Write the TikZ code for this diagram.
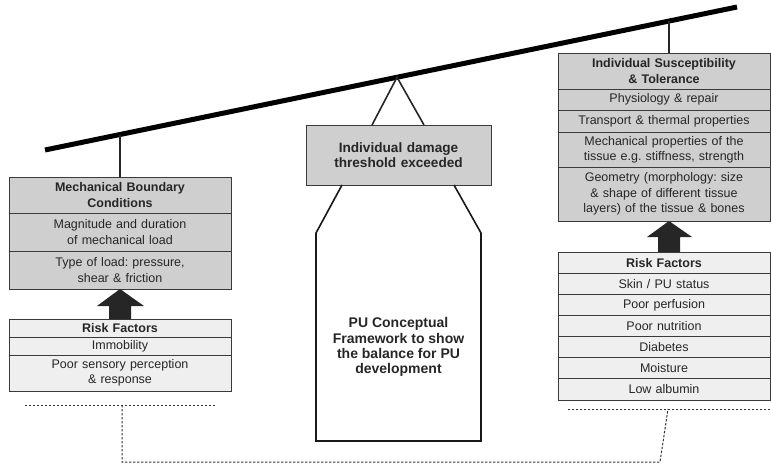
\documentclass[tikz,border=0pt]{standalone}
\usepackage{fontspec}
\setmainfont{Liberation Sans}
\usetikzlibrary{calc}
\frenchspacing
\definecolor{boxgray}{HTML}{CFCFCF}
\definecolor{riskgray}{HTML}{EFEFEF}
\definecolor{edge}{HTML}{3A3A3A}
\tikzset{
  cell/.style={draw=edge, line width=0.9pt, inner sep=0pt, align=center,
    font=\fontsize{12.5}{15.3}\selectfont, text=black!85, anchor=center},
  upper/.style={cell, fill=boxgray},
  risk/.style={cell, fill=riskgray},
  ttl/.style={font=\fontsize{12.5}{15.3}\selectfont\bfseries},
  beamline/.style={line width=5pt},
  hang/.style={line width=1.6pt, black!85},
  bigarrow/.style={fill=black!85, draw=none},
  dashln/.style={draw=black!80, line width=1pt, dash pattern=on 2.4pt off 1.6pt}
}
\begin{document}
\begin{tikzpicture}[x=1pt,y=-1pt]
\useasboundingbox (0,0) rectangle (771,464);
% beam
\coordinate (beamL) at (45,150);
\coordinate (beamR) at (737,7);
\draw[beamline] (beamL) -- (beamR);
\coordinate (apex) at ($(beamL)!0.5087!(beamR)$);
\coordinate (hookL) at ($(beamL)!0.1084!(beamR)$);
\coordinate (hookR) at ($(beamL)!0.9017!(beamR)$);

% left stack
\node[upper, minimum width=222, minimum height=36, text width=215, ttl] (mbc) at (120,195) {Mechanical Boundary\\Conditions};
\node[upper, minimum width=222, minimum height=38, text width=215] (mag) at (120,232) {Magnitude and duration\\of mechanical load};
\node[upper, minimum width=222, minimum height=38, text width=215] (typ) at (120,270) {Type of load: pressure,\\shear \& friction};
\node[risk, minimum width=222, minimum height=18, text width=215, ttl] (rfL) at (120,328) {Risk Factors};
\node[risk, minimum width=222, minimum height=18, text width=215] (imm) at (120,346) {Immobility};
\node[risk, minimum width=222, minimum height=36, text width=215] (poor) at (120,373) {Poor sensory perception\\\& response};
\draw[hang] (hookL) -- (hookL |- mbc.north);
\fill[bigarrow] (109,319) -- (109,306) -- (97,306) -- (120,289) -- (144,306) -- (131,306) -- (131,319) -- cycle;

% right stack
\node[upper, minimum width=212, minimum height=36, text width=208, ttl] (ist) at (664,71) {Individual Susceptibility\\\& Tolerance};
\node[upper, minimum width=212, minimum height=21, text width=208] (phy) at (664,99.5) {Physiology \& repair};
\node[upper, minimum width=212, minimum height=22, text width=208] (tra) at (664,121) {Transport \& thermal properties};
\node[upper, minimum width=212, minimum height=35, text width=208] (mec) at (664,149.5) {Mechanical properties of the\\tissue e.g. stiffness, strength};
\node[upper, minimum width=212, minimum height=54, text width=208] (geo) at (664,194) {Geometry (morphology: size\\\& shape of different tissue\\layers) of the tissue \& bones};
\draw[hang] (hookR) -- (hookR |- ist.north);
\fill[bigarrow] (658,252) -- (658,237) -- (647,237) -- (669,221) -- (692,237) -- (680,237) -- (680,252) -- cycle;
\node[risk, minimum width=212, minimum height=21.14, text width=208, ttl] (rfR) at (664,262.6) {Risk Factors};
\node[risk, minimum width=212, minimum height=21.14, text width=208] (skin) at (664,283.7) {Skin / PU status};
\node[risk, minimum width=212, minimum height=21.14, text width=208] (perf) at (664,304.9) {Poor perfusion};
\node[risk, minimum width=212, minimum height=21.14, text width=208] (nutr) at (664,326.0) {Poor nutrition};
\node[risk, minimum width=212, minimum height=21.14, text width=208] (diab) at (664,347.2) {Diabetes};
\node[risk, minimum width=212, minimum height=21.14, text width=208] (mois) at (664,368.3) {Moisture};
\node[risk, minimum width=212, minimum height=21.14, text width=208] (alb) at (664,389.4) {Low albumin};

% middle
\node[upper, minimum width=185, minimum height=60, text width=180, font=\fontsize{13.6}{15.5}\selectfont\bfseries] (dmg) at (398.5,155) {Individual damage\\threshold exceeded};
\draw[hang] (372,125) -- (apex) -- (424,125);
\draw[line width=1.6pt, black!90, line join=miter] (342,185) -- (316,233) -- (316,441) -- (481,441) -- (481,233) -- (454,185);
\node[align=center, text=black!85, font=\fontsize{14}{15.2}\selectfont\bfseries] (pu) at (398.5,347) {PU Conceptual\\Framework to show\\the balance for PU\\development};

% dashed brackets
\coordinate (dLa) at (25,405);
\coordinate (dLb) at (215,405);
\coordinate (dRa) at (568,409);
\coordinate (dRb) at (770,409);
\draw[dashln] (dLa) -- (dLb);
\draw[dashln] (dRa) -- (dRb);
\coordinate (jL) at (122,405);
\coordinate (jR) at (668,409);
\draw[dashln] (jL) -- (122,462) -- (660,462) -- (jR);
\end{tikzpicture}
\end{document}
